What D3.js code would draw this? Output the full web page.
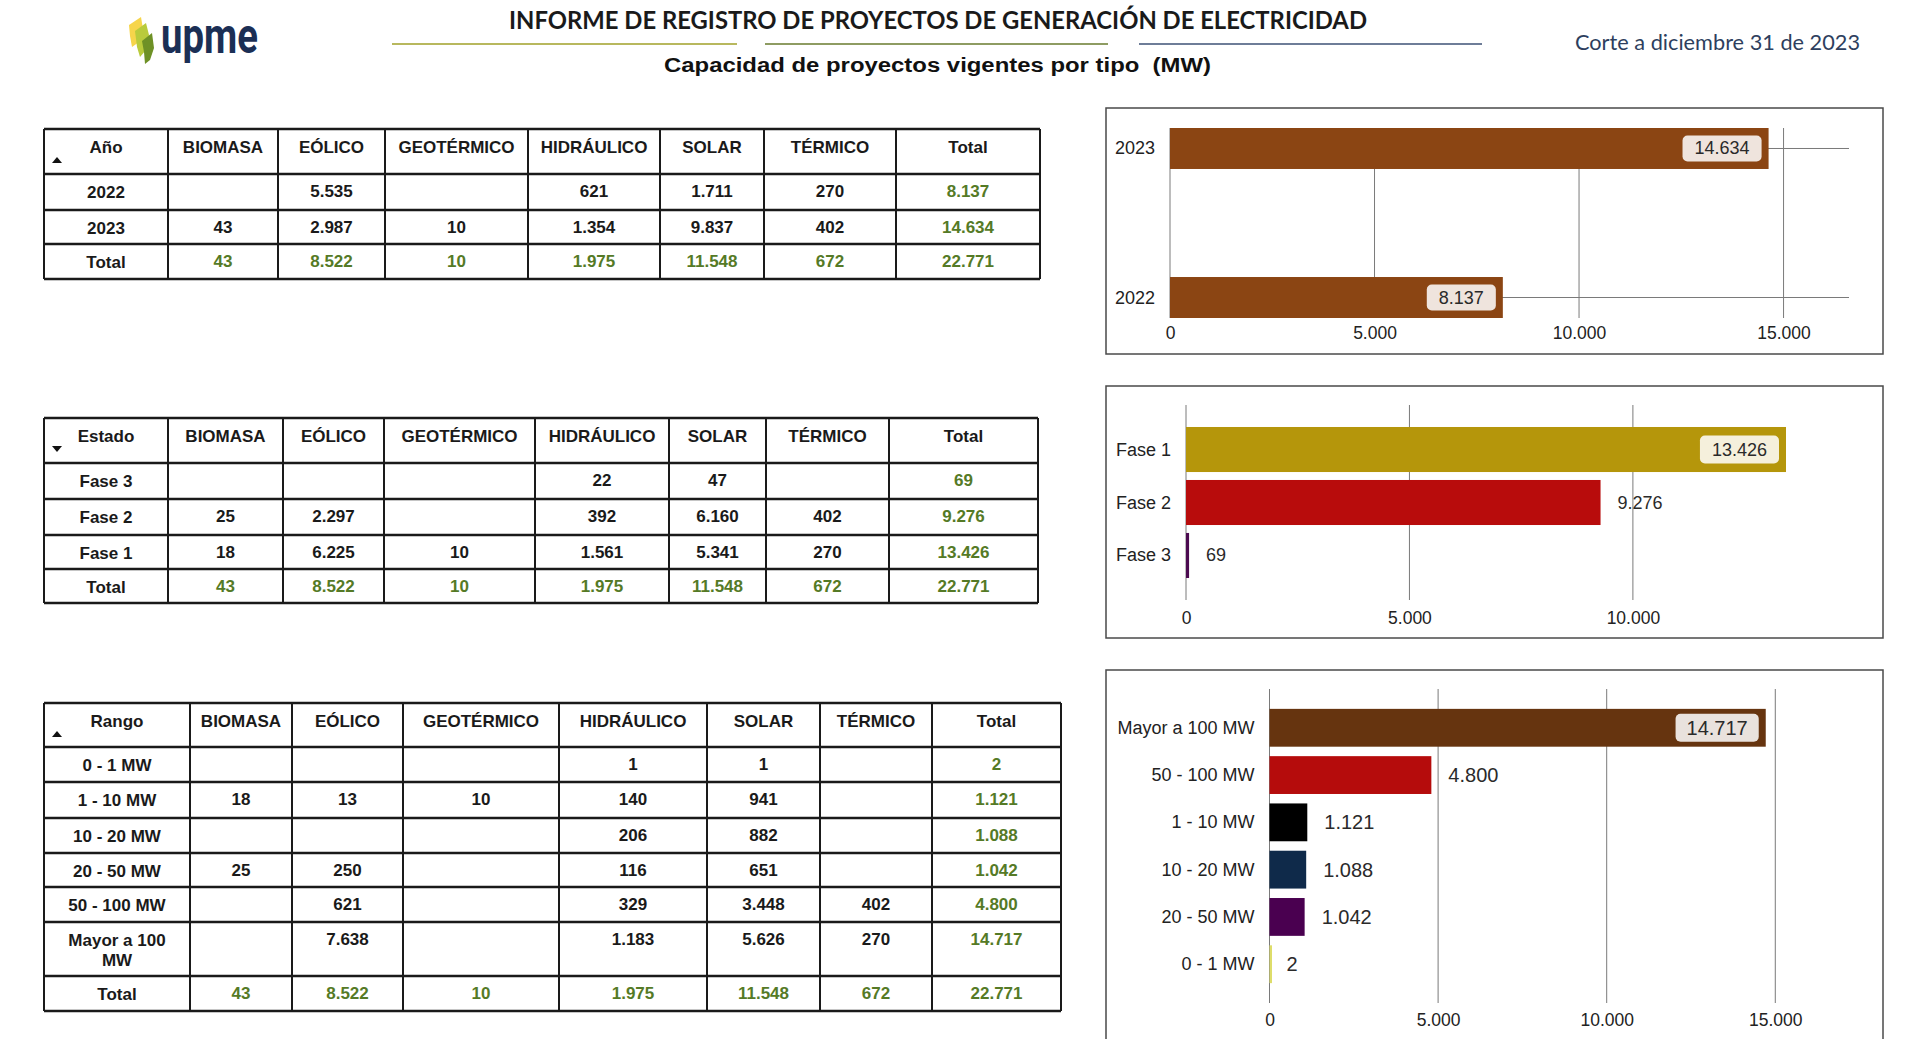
<!DOCTYPE html>
<html>
<head>
<meta charset="utf-8">
<script src="https://cdn.jsdelivr.net/npm/d3@7"></script>
<style>
  html, body { margin: 0; padding: 0; background: #fff; }
  svg { display: block; }
</style>
</head>
<body>
<svg id="c" width="1910" height="1039"></svg>
<script>
// ---------------- DATA ----------------
const tipos = ["BIOMASA", "EÓLICO", "GEOTÉRMICO", "HIDRÁULICO", "SOLAR", "TÉRMICO", "Total"];

const anioRows = ["2022", "2023", "Total"];
const anioValues = [
  [null, 5535, null, 621, 1711, 270, 8137],
  [43, 2987, 10, 1354, 9837, 402, 14634],
  [43, 8522, 10, 1975, 11548, 672, 22771]
];

const estadoRows = ["Fase 3", "Fase 2", "Fase 1", "Total"];
const estadoValues = [
  [null, null, null, 22, 47, null, 69],
  [25, 2297, null, 392, 6160, 402, 9276],
  [18, 6225, 10, 1561, 5341, 270, 13426],
  [43, 8522, 10, 1975, 11548, 672, 22771]
];

const rangoRows = ["0 - 1 MW", "1 - 10 MW", "10 - 20 MW", "20 - 50 MW", "50 - 100 MW", "Mayor a 100 MW", "Total"];
const rangoValues = [
  [null, null, null, 1, 1, null, 2],
  [18, 13, 10, 140, 941, null, 1121],
  [null, null, null, 206, 882, null, 1088],
  [25, 250, null, 116, 651, null, 1042],
  [null, 621, null, 329, 3448, 402, 4800],
  [null, 7638, null, 1183, 5626, 270, 14717],
  [43, 8522, 10, 1975, 11548, 672, 22771]
];

const anioCats = ["2023", "2022"];
const anioTotals = [14634, 8137];
const anioColors = ["#8B4513", "#8B4513"];
const anioTicks = [0, 5000, 10000, 15000];

const faseCats = ["Fase 1", "Fase 2", "Fase 3"];
const faseTotals = [13426, 9276, 69];
const faseColors = ["#B5960B", "#B80C0C", "#4B0A50"];
const faseTicks = [0, 5000, 10000];

const rangoCats = ["Mayor a 100 MW", "50 - 100 MW", "1 - 10 MW", "10 - 20 MW", "20 - 50 MW", "0 - 1 MW"];
const rangoTotals = [14717, 4800, 1121, 1088, 1042, 2];
const rangoColors = ["#66340F", "#B50C0C", "#000000", "#0F2A4A", "#4A0050", "#DEDD6A"];
const rangoTicks = [0, 5000, 10000, 15000];

const titleText = "INFORME DE REGISTRO DE PROYECTOS DE GENERACIÓN DE ELECTRICIDAD";
const subtitleText = "Capacidad de proyectos vigentes por tipo  (MW)";
const corteText = "Corte a diciembre 31 de 2023";

// ---------------- HELPERS ----------------
const locale = d3.formatLocale({ decimal: ",", thousands: ".", grouping: [3], currency: ["$", ""] });
const fmt = locale.format(",d");
const svg = d3.select("#c");
const FONT = "'Liberation Sans', Arial, Helvetica, sans-serif";
const GREEN = "#557A26";

svg.append("rect").attr("width", 1910).attr("height", 1039).attr("fill", "#fff");

// ---------------- HEADER ----------------
const logo = svg.append("g");
logo.append("path").attr("d", "M129,25 L141,17 L143,29 L139,42 L132,47 L130,36 Z").attr("fill", "#F6D54B");
logo.append("path").attr("d", "M135,31 L146,23 L149,35 L146,50 L140,57 L137,47 Z").attr("fill", "#B9CB3C");
logo.append("path").attr("d", "M142,41 L152,33 L154,48 L150,60 L145,64 L144,52 Z").attr("fill", "#6E9126");
logo.append("text").attr("x", 161).attr("y", 53)
  .attr("font-family", "Roboto, 'Liberation Sans', sans-serif").attr("font-weight", 700)
  .attr("font-size", 50).attr("fill", "#1B2F55")
  .attr("textLength", 97).attr("lengthAdjust", "spacingAndGlyphs").text("upme");

svg.append("text").attr("x", 509).attr("y", 29)
  .attr("font-family", "Lato, 'Open Sans', sans-serif").attr("font-weight", 700)
  .attr("font-size", 24).attr("fill", "#1a1a1a")
  .attr("textLength", 858).attr("lengthAdjust", "spacingAndGlyphs").text(titleText);

const ruleSegs = [[392, 737, "#B8B85E"], [765, 1108, "#8E9C62"], [1139, 1482, "#6E7D98"]];
svg.selectAll(".rule").data(ruleSegs).join("line")
  .attr("x1", d => d[0]).attr("x2", d => d[1]).attr("y1", 44).attr("y2", 44)
  .attr("stroke", d => d[2]).attr("stroke-width", 2);

svg.append("text").attr("x", 664).attr("y", 72)
  .attr("font-family", FONT).attr("font-weight", 700)
  .attr("font-size", 20).attr("fill", "#111")
  .style("white-space", "pre")
  .attr("textLength", 547).attr("lengthAdjust", "spacingAndGlyphs").text(subtitleText);

svg.append("text").attr("x", 1575).attr("y", 50)
  .attr("font-family", "Lato, 'Open Sans', sans-serif")
  .attr("font-size", 21).attr("fill", "#2E3F5E")
  .attr("textLength", 285).attr("lengthAdjust", "spacingAndGlyphs").text(corteText);

// ---------------- TABLES ----------------
function wrapText(textSel, maxW) {
  textSel.each(function () {
    const t = d3.select(this);
    const words = t.text().split(" ");
    const x = t.attr("x"), y = +t.attr("y");
    t.text(null);
    let line = [], lineNo = 0;
    let tsp = t.append("tspan").attr("x", x).attr("y", y);
    words.forEach(w => {
      line.push(w);
      tsp.text(line.join(" "));
      if (tsp.node().getComputedTextLength() > maxW && line.length > 1) {
        line.pop();
        tsp.text(line.join(" "));
        line = [w];
        lineNo++;
        tsp = t.append("tspan").attr("x", x).attr("y", y + lineNo * 20).text(w);
      }
    });
  });
}

function drawTable(cfg) {
  const g = svg.append("g");
  const names = [cfg.head].concat(tipos);
  const xc = d3.scaleOrdinal().domain(names)
    .range(names.map((d, i) => (cfg.cols[i] + cfg.cols[i + 1]) / 2));
  const yTop = d3.scaleOrdinal().domain(["__head"].concat(cfg.rows))
    .range(cfg.rowEdges.slice(0, -1));
  const x0 = cfg.cols[0], x1 = cfg.cols[cfg.cols.length - 1];
  const y0 = cfg.rowEdges[0], y1 = cfg.rowEdges[cfg.rowEdges.length - 1];

  // headers
  g.selectAll(".h").data(names).join("text")
    .attr("x", d => xc(d)).attr("y", y0 + 18)
    .attr("text-anchor", "middle").attr("dominant-baseline", "central")
    .attr("font-family", FONT).attr("font-weight", 700).attr("font-size", 17)
    .attr("fill", "#1a1a1a").text(d => d);

  // sort arrow
  const ax = x0 + 13, ay = y0 + 31;
  g.append("path")
    .attr("d", cfg.arrowUp
      ? `M${ax - 5},${ay + 3} L${ax + 5},${ay + 3} L${ax},${ay - 3} Z`
      : `M${ax - 5},${ay - 3} L${ax + 5},${ay - 3} L${ax},${ay + 3} Z`)
    .attr("fill", "#111");

  // row labels
  const lab = g.selectAll(".rl").data(cfg.rows).join("text")
    .attr("x", d => xc(cfg.head)).attr("y", d => yTop(d) + 17.5)
    .attr("text-anchor", "middle").attr("dominant-baseline", "central")
    .attr("font-family", FONT).attr("font-weight", 700).attr("font-size", 17)
    .attr("fill", "#1a1a1a").text(d => d);
  wrapText(lab, cfg.cols[1] - cfg.cols[0] - 14);

  // values
  const cells = [];
  cfg.values.forEach((row, ri) => row.forEach((v, ci) => {
    if (v !== null) cells.push({ r: cfg.rows[ri], c: tipos[ci], v, total: cfg.rows[ri] === "Total" || tipos[ci] === "Total" });
  }));
  g.selectAll(".v").data(cells).join("text")
    .attr("x", d => xc(d.c)).attr("y", d => yTop(d.r) + 17.5)
    .attr("text-anchor", "middle").attr("dominant-baseline", "central")
    .attr("font-family", FONT).attr("font-weight", 700).attr("font-size", 17)
    .attr("fill", d => d.total ? GREEN : "#1a1a1a").text(d => fmt(d.v));

  // grid lines
  g.selectAll(".hl").data(cfg.rowEdges).join("line")
    .attr("x1", x0).attr("x2", x1).attr("y1", d => d).attr("y2", d => d)
    .attr("stroke", "#1a1a1a").attr("stroke-width", 2.5);
  g.selectAll(".vl").data(cfg.cols).join("line")
    .attr("x1", d => d).attr("x2", d => d).attr("y1", y0).attr("y2", y1)
    .attr("stroke", "#1a1a1a").attr("stroke-width", 2);
}

drawTable({ head: "Año", rows: anioRows, values: anioValues, arrowUp: true,
  cols: [44, 168, 278, 385, 528, 660, 764, 896, 1040],
  rowEdges: [129, 174, 210, 244, 279] });
drawTable({ head: "Estado", rows: estadoRows, values: estadoValues, arrowUp: false,
  cols: [44, 168, 283, 384, 535, 669, 766, 889, 1038],
  rowEdges: [418, 463, 499, 535, 569, 603] });
drawTable({ head: "Rango", rows: rangoRows, values: rangoValues, arrowUp: true,
  cols: [44, 190, 292, 403, 559, 707, 820, 932, 1061],
  rowEdges: [703, 747, 782, 818, 853, 887, 922, 976, 1011] });

// ---------------- BAR CHARTS ----------------
function drawChart(cfg) {
  const g = svg.append("g");
  g.append("rect").attr("x", 1106).attr("y", cfg.box[0]).attr("width", 777).attr("height", cfg.box[1] - cfg.box[0])
    .attr("fill", "#fff").attr("stroke", "#4a4a4a").attr("stroke-width", 1.5);

  const x = d3.scaleLinear().domain(cfg.xDomain).range(cfg.xRange);
  const y = d3.scaleBand().domain(cfg.cats).range(cfg.yRange)
    .paddingInner(cfg.padIn).paddingOuter(cfg.padOut);

  // vertical grid
  g.selectAll(".vg").data(cfg.ticks).join("line")
    .attr("x1", d => x(d)).attr("x2", d => x(d))
    .attr("y1", cfg.yRange[0]).attr("y2", cfg.yRange[1])
    .attr("stroke", "#7a7a7a").attr("stroke-width", 1);
  // horizontal grid at category centers
  if (cfg.hGrid) {
    g.selectAll(".hg").data(cfg.cats).join("line")
      .attr("x1", x(0)).attr("x2", cfg.xRange[1])
      .attr("y1", d => y(d) + y.bandwidth() / 2).attr("y2", d => y(d) + y.bandwidth() / 2)
      .attr("stroke", "#7a7a7a").attr("stroke-width", 1);
  }

  const data = cfg.cats.map((c, i) => ({ c, v: cfg.vals[i], col: cfg.colors[i] }));
  g.selectAll(".bar").data(data).join("rect")
    .attr("x", x(0)).attr("y", d => y(d.c))
    .attr("width", d => Math.max(2.5, x(d.v) - x(0))).attr("height", y.bandwidth())
    .attr("fill", d => d.col);

  // category labels
  g.selectAll(".cl").data(cfg.cats).join("text")
    .attr("x", x(0) - 15).attr("y", d => y(d) + y.bandwidth() / 2)
    .attr("text-anchor", "end").attr("dominant-baseline", "central")
    .attr("font-family", FONT).attr("font-size", 18).attr("fill", "#222").text(d => d);

  // axis tick labels
  const axis = d3.axisBottom(x).tickValues(cfg.ticks).tickFormat(fmt).tickSize(0).tickPadding(0);
  const ag = g.append("g").attr("transform", `translate(0,${cfg.axisY})`).call(axis);
  ag.select(".domain").remove();
  ag.selectAll("text").attr("y", 0).attr("dy", "0.35em")
    .attr("font-family", FONT).attr("font-size", 17.5).attr("fill", "#222");

  // value labels
  data.forEach(d => {
    const cy = y(d.c) + y.bandwidth() / 2;
    if (d.v >= cfg.insideMin) {
      const t = g.append("text").attr("text-anchor", "middle").attr("dominant-baseline", "central")
        .attr("font-family", FONT).attr("font-size", cfg.valSize).attr("fill", "#2a2a2a").text(fmt(d.v));
      const w = t.node().getComputedTextLength() + cfg.boxPad * 2;
      const right = x(d.v) - 7;
      g.insert("rect", () => t.node())
        .attr("x", right - w).attr("y", cy - cfg.boxH / 2).attr("width", w).attr("height", cfg.boxH)
        .attr("rx", 5).attr("fill", "#fff").attr("fill-opacity", 0.86);
      t.attr("x", right - w / 2).attr("y", cy);
    } else {
      g.append("text").attr("x", x(d.v) + 17).attr("y", cy)
        .attr("dominant-baseline", "central")
        .attr("font-family", FONT).attr("font-size", cfg.valSize).attr("fill", "#2a2a2a").text(fmt(d.v));
    }
  });
}

drawChart({ box: [108, 354], cats: anioCats, vals: anioTotals, colors: anioColors, ticks: anioTicks,
  xDomain: [0, 16600], xRange: [1170, 1849], yRange: [128, 318], padIn: 0.725, padOut: 0,
  hGrid: true, axisY: 333, insideMin: 0, valSize: 18, boxH: 26, boxPad: 12 });
drawChart({ box: [386, 638], cats: faseCats, vals: faseTotals, colors: faseColors, ticks: faseTicks,
  xDomain: [0, 14500], xRange: [1186, 1834], yRange: [405, 600], padIn: 0.15, padOut: 0.415,
  hGrid: false, axisY: 618, insideMin: 10000, valSize: 18, boxH: 28, boxPad: 12 });
drawChart({ box: [670, 1046], cats: rangoCats, vals: rangoTotals, colors: rangoColors, ticks: rangoTicks,
  xDomain: [0, 16000], xRange: [1269.5, 1809], yRange: [689, 1003], padIn: 0.2, padOut: 0.42,
  hGrid: false, axisY: 1020, insideMin: 10000, valSize: 20, boxH: 28, boxPad: 11 });
</script>
</body>
</html>
